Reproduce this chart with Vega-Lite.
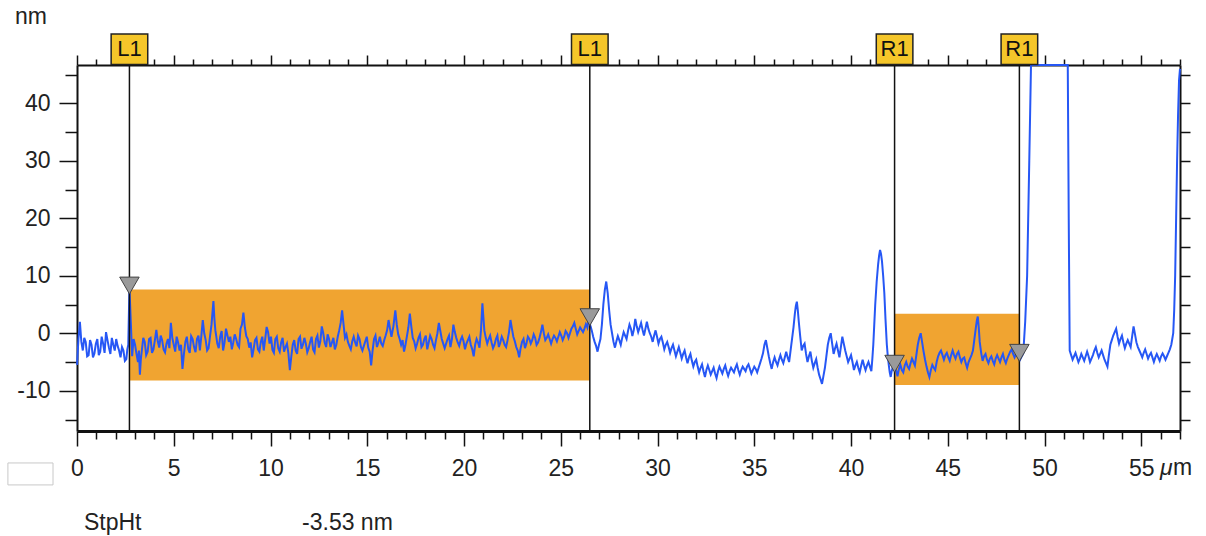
{
"$schema": "https://vega.github.io/schema/vega-lite/v6.json",
"width": 1103, "height": 366,
"autosize": {"type": "none"},
"padding": {"left": 77, "top": 65, "right": 26, "bottom": 105},
"background": "white",
"config": {"view": {"stroke": null}, "axis": {"labelFont": "Liberation Sans", "labelFontSize": 23, "labelColor": "#222", "domainColor": "#111", "tickColor": "#111", "grid": false, "title": null, "labelFlush": false}},
"datasets": {
"profile": [
{"x":0.00,"h":-5.5},{"x":0.075,"h":-1.0},{"x":0.15,"h":2.0},{"x":0.225,"h":-1.5},{"x":0.30,"h":-3.0},{"x":0.375,"h":-0.8},{"x":0.45,"h":-1.5},{"x":0.525,"h":-4.0},{"x":0.60,"h":-3.8},{"x":0.675,"h":-1.2},{"x":0.75,"h":-2.0},{"x":0.825,"h":-4.2},{"x":0.90,"h":-3.5},{"x":0.975,"h":-1.8},{"x":1.05,"h":-1.0},{"x":1.125,"h":-3.8},{"x":1.20,"h":-3.2},{"x":1.275,"h":-0.6},{"x":1.35,"h":-1.8},{"x":1.425,"h":-3.4},{"x":1.50,"h":0.2},{"x":1.575,"h":-1.2},{"x":1.65,"h":-2.5},{"x":1.725,"h":-3.6},{"x":1.80,"h":-0.8},{"x":1.875,"h":-2.0},{"x":1.95,"h":-3.0},{"x":2.025,"h":-1.0},{"x":2.10,"h":-2.2},{"x":2.175,"h":-3.0},{"x":2.25,"h":-4.2},{"x":2.325,"h":-2.4},{"x":2.40,"h":-3.0},{"x":2.475,"h":-4.8},{"x":2.55,"h":-4.5},{"x":2.60,"h":-2.8},{"x":2.65,"h":-2.0},{"x":2.71,"h":8.0},{"x":2.78,"h":2.0},{"x":2.85,"h":-4.0},
{"x":2.925,"h":-1.0},{"x":3.00,"h":-2.0},{"x":3.075,"h":-3.6},{"x":3.15,"h":-5.0},{"x":3.20,"h":-3.0},{"x":3.25,"h":-7.2},{"x":3.30,"h":-4.5},{"x":3.35,"h":-3.0},{"x":3.425,"h":-0.8},{"x":3.50,"h":-1.5},{"x":3.575,"h":-3.8},{"x":3.65,"h":-3.2},{"x":3.725,"h":-1.0},{"x":3.80,"h":-0.8},{"x":3.875,"h":-3.4},{"x":3.95,"h":-2.8},{"x":4.025,"h":-1.2},{"x":4.10,"h":0.6},{"x":4.175,"h":-1.4},{"x":4.25,"h":-2.5},{"x":4.325,"h":-0.4},{"x":4.40,"h":-1.2},{"x":4.475,"h":-2.8},{"x":4.55,"h":-3.3},{"x":4.625,"h":-1.8},{"x":4.70,"h":-1.0},{"x":4.775,"h":-2.6},{"x":4.85,"h":1.8},{"x":4.925,"h":-0.8},{"x":5.00,"h":-2.0},{"x":5.075,"h":-3.2},{"x":5.15,"h":-0.6},{"x":5.225,"h":-1.6},{"x":5.30,"h":-3.0},{"x":5.375,"h":-2.0},{"x":5.45,"h":-6.2},{"x":5.525,"h":-3.6},{"x":5.60,"h":-1.5},{"x":5.675,"h":-0.6},{"x":5.75,"h":-2.8},{"x":5.825,"h":-3.4},{"x":5.90,"h":-0.5},{"x":5.975,"h":-1.0},{"x":6.05,"h":-2.4},{"x":6.125,"h":-3.3},{"x":6.20,"h":-1.0},{"x":6.275,"h":-0.4},{"x":6.35,"h":-3.0},{"x":6.425,"h":-0.5},{"x":6.50,"h":2.3},{"x":6.575,"h":0.0},{"x":6.65,"h":-1.2},{"x":6.725,"h":-3.0},{"x":6.80,"h":-2.6},{"x":6.875,"h":-0.5},{"x":6.95,"h":1.5},{"x":7.05,"h":5.6},{"x":7.10,"h":2.5},{"x":7.15,"h":0.5},{"x":7.20,"h":-0.6},{"x":7.25,"h":-1.8},{"x":7.325,"h":-2.6},{"x":7.40,"h":-0.6},{"x":7.475,"h":0.4},{"x":7.55,"h":-3.0},{"x":7.625,"h":-1.6},{"x":7.70,"h":0.8},{"x":7.775,"h":-0.4},{"x":7.85,"h":-1.5},{"x":7.925,"h":-0.6},{"x":8.00,"h":-2.8},{"x":8.075,"h":-1.6},{"x":8.15,"h":-0.2},{"x":8.225,"h":-1.0},{"x":8.30,"h":-2.0},{"x":8.375,"h":-2.4},{"x":8.45,"h":0.8},{"x":8.525,"h":1.5},{"x":8.60,"h":3.6},{"x":8.675,"h":1.0},{"x":8.75,"h":-0.5},{"x":8.825,"h":-1.0},{"x":8.90,"h":-2.5},{"x":8.975,"h":-1.6},{"x":9.05,"h":-4.2},{"x":9.125,"h":-2.8},{"x":9.20,"h":-1.2},{"x":9.275,"h":-0.8},{"x":9.35,"h":-2.8},{"x":9.425,"h":-3.2},{"x":9.50,"h":-1.5},{"x":9.575,"h":-0.6},{"x":9.65,"h":-3.0},{"x":9.725,"h":-1.0},{"x":9.80,"h":1.1},{"x":9.875,"h":0.2},{"x":9.95,"h":-1.8},{"x":10.025,"h":-0.6},{"x":10.10,"h":-2.9},{"x":10.175,"h":-3.4},{"x":10.25,"h":-1.0},{"x":10.325,"h":-0.6},{"x":10.40,"h":-2.6},{"x":10.475,"h":-3.2},{"x":10.55,"h":-1.6},{"x":10.625,"h":-0.8},{"x":10.70,"h":-3.2},{"x":10.775,"h":-2.4},{"x":10.85,"h":-1.8},{"x":10.925,"h":-3.5},{"x":11.00,"h":-6.4},{"x":11.075,"h":-4.0},{"x":11.15,"h":-2.0},{"x":11.225,"h":-1.2},{"x":11.30,"h":-3.0},{"x":11.375,"h":-3.6},{"x":11.45,"h":-1.0},{"x":11.525,"h":-0.6},{"x":11.60,"h":-2.7},{"x":11.675,"h":-2.0},{"x":11.75,"h":-0.8},{"x":11.825,"h":-1.8},{"x":11.90,"h":-3.3},{"x":11.975,"h":-2.6},{"x":12.05,"h":-1.5},{"x":12.125,"h":-0.6},{"x":12.20,"h":-2.8},{"x":12.275,"h":-3.3},{"x":12.35,"h":-1.0},{"x":12.425,"h":-0.4},{"x":12.50,"h":-2.5},{"x":12.575,"h":-1.4},{"x":12.65,"h":1.2},{"x":12.725,"h":0.0},{"x":12.80,"h":-1.6},{"x":12.875,"h":-2.4},{"x":12.95,"h":-0.2},{"x":13.025,"h":-1.0},{"x":13.10,"h":-2.4},{"x":13.175,"h":-1.6},{"x":13.25,"h":-0.8},{"x":13.325,"h":-2.8},{"x":13.40,"h":-2.0},{"x":13.475,"h":-0.6},{"x":13.55,"h":0.5},{"x":13.625,"h":1.8},{"x":13.70,"h":4.0},{"x":13.775,"h":1.5},{"x":13.85,"h":-0.8},{"x":13.925,"h":-0.2},{"x":14.00,"h":-1.5},{"x":14.075,"h":-2.2},{"x":14.15,"h":-2.8},{"x":14.225,"h":-1.4},{"x":14.30,"h":-0.6},{"x":14.375,"h":-1.6},{"x":14.45,"h":-2.3},{"x":14.525,"h":-0.4},{"x":14.60,"h":-1.0},{"x":14.675,"h":-2.4},{"x":14.75,"h":-3.0},{"x":14.825,"h":-2.2},{"x":14.90,"h":-1.4},{"x":14.975,"h":-0.6},{"x":15.05,"h":-2.5},{"x":15.125,"h":-3.2},{"x":15.20,"h":-5.6},{"x":15.275,"h":-3.0},{"x":15.35,"h":-1.0},{"x":15.425,"h":-0.4},{"x":15.50,"h":-2.4},{"x":15.575,"h":-1.6},{"x":15.65,"h":-0.6},{"x":15.725,"h":-1.8},{"x":15.80,"h":-2.2},{"x":15.875,"h":-1.2},{"x":15.95,"h":-0.4},{"x":16.025,"h":0.5},{"x":16.10,"h":2.3},{"x":16.175,"h":0.8},{"x":16.25,"h":-0.6},{"x":16.35,"h":1.2},{"x":16.45,"h":4.0},{"x":16.525,"h":1.5},{"x":16.60,"h":-0.2},{"x":16.675,"h":-1.0},{"x":16.75,"h":-2.0},{"x":16.825,"h":-1.2},{"x":16.90,"h":-3.2},{"x":16.975,"h":-2.0},{"x":17.05,"h":-0.5},{"x":17.125,"h":1.0},{"x":17.20,"h":3.4},{"x":17.275,"h":1.2},{"x":17.35,"h":-0.8},{"x":17.425,"h":-1.4},{"x":17.50,"h":-2.6},{"x":17.575,"h":-1.8},{"x":17.65,"h":-0.8},{"x":17.725,"h":-0.2},{"x":17.80,"h":-2.4},{"x":17.875,"h":-2.0},{"x":17.95,"h":-1.0},{"x":18.025,"h":-0.4},{"x":18.10,"h":-2.8},{"x":18.175,"h":-1.6},{"x":18.25,"h":-0.4},{"x":18.325,"h":-1.0},{"x":18.40,"h":-2.0},{"x":18.475,"h":-2.6},{"x":18.55,"h":-1.2},{"x":18.625,"h":0.0},{"x":18.70,"h":1.8},{"x":18.775,"h":0.4},{"x":18.85,"h":-1.0},{"x":18.925,"h":-1.8},{"x":19.00,"h":-2.6},{"x":19.075,"h":-1.8},{"x":19.15,"h":-1.0},{"x":19.225,"h":-0.4},{"x":19.30,"h":-2.4},{"x":19.375,"h":-1.0},{"x":19.45,"h":1.5},{"x":19.525,"h":0.2},{"x":19.60,"h":-0.8},{"x":19.675,"h":-1.6},{"x":19.75,"h":-2.2},{"x":19.825,"h":-1.2},{"x":19.90,"h":-0.6},{"x":19.975,"h":-1.4},{"x":20.05,"h":-2.8},{"x":20.125,"h":-1.8},{"x":20.20,"h":-1.2},{"x":20.275,"h":-0.6},{"x":20.35,"h":-2.0},{"x":20.425,"h":-2.8},{"x":20.50,"h":-4.0},{"x":20.575,"h":-2.0},{"x":20.65,"h":-1.0},{"x":20.725,"h":-1.6},{"x":20.80,"h":-2.5},{"x":20.875,"h":0.5},{"x":20.95,"h":5.2},{"x":21.00,"h":2.8},{"x":21.05,"h":0.5},{"x":21.125,"h":-0.8},{"x":21.20,"h":-1.8},{"x":21.275,"h":-1.0},{"x":21.35,"h":-0.4},{"x":21.425,"h":-1.6},{"x":21.50,"h":-2.6},{"x":21.575,"h":-2.0},{"x":21.65,"h":-1.0},{"x":21.725,"h":-0.4},{"x":21.80,"h":-2.4},{"x":21.875,"h":-1.6},{"x":21.95,"h":-0.6},{"x":22.025,"h":-1.2},{"x":22.10,"h":-2.0},{"x":22.175,"h":-2.4},{"x":22.25,"h":-1.2},{"x":22.325,"h":0.2},{"x":22.40,"h":2.3},{"x":22.475,"h":0.8},{"x":22.55,"h":-0.6},{"x":22.625,"h":-1.4},{"x":22.70,"h":-2.4},{"x":22.775,"h":-3.0},{"x":22.85,"h":-4.2},{"x":22.925,"h":-2.6},{"x":23.00,"h":-1.5},{"x":23.075,"h":-1.0},{"x":23.15,"h":-2.6},{"x":23.225,"h":-1.8},{"x":23.30,"h":-0.6},{"x":23.375,"h":-1.0},{"x":23.45,"h":-1.8},{"x":23.525,"h":-1.2},{"x":23.60,"h":-0.2},{"x":23.675,"h":-0.8},{"x":23.75,"h":-2.0},{"x":23.825,"h":-1.6},{"x":23.90,"h":-0.8},{"x":23.975,"h":0.2},{"x":24.05,"h":1.5},{"x":24.125,"h":0.0},{"x":24.20,"h":-1.2},{"x":24.275,"h":-0.8},{"x":24.35,"h":-0.2},{"x":24.425,"h":-1.0},{"x":24.50,"h":-1.8},{"x":24.575,"h":-1.0},{"x":24.65,"h":-0.4},{"x":24.725,"h":-0.8},{"x":24.80,"h":-1.4},{"x":24.875,"h":-0.6},{"x":24.95,"h":0.2},{"x":25.025,"h":-0.4},{"x":25.10,"h":-1.2},{"x":25.175,"h":-0.6},{"x":25.25,"h":0.4},{"x":25.325,"h":0.0},{"x":25.40,"h":-0.8},{"x":25.475,"h":0.0},{"x":25.55,"h":0.8},{"x":25.625,"h":1.2},{"x":25.70,"h":1.8},{"x":25.775,"h":0.8},{"x":25.85,"h":-0.2},{"x":25.925,"h":0.4},{"x":26.00,"h":1.0},{"x":26.075,"h":0.6},{"x":26.15,"h":0.2},{"x":26.225,"h":0.8},{"x":26.30,"h":1.6},{"x":26.375,"h":1.0},{"x":26.45,"h":2.6},{"x":26.525,"h":1.4},{"x":26.60,"h":0.5},{"x":26.675,"h":-0.6},{"x":26.75,"h":-1.5},{"x":26.825,"h":-2.2},{"x":26.90,"h":-3.2},{"x":26.975,"h":-2.0},{"x":27.05,"h":-1.0},
{"x":27.125,"h":1.5},{"x":27.20,"h":5.0},{"x":27.275,"h":7.5},{"x":27.35,"h":9.0},{"x":27.425,"h":7.0},{"x":27.50,"h":4.0},{"x":27.575,"h":1.5},{"x":27.65,"h":0.0},{"x":27.725,"h":-1.5},{"x":27.80,"h":-2.5},{"x":27.875,"h":-1.4},{"x":27.95,"h":-0.5},{"x":28.025,"h":-1.2},{"x":28.10,"h":-2.0},{"x":28.175,"h":-0.8},{"x":28.25,"h":0.2},{"x":28.325,"h":-0.4},{"x":28.40,"h":-1.0},{"x":28.475,"h":0.4},{"x":28.55,"h":1.5},{"x":28.625,"h":0.8},{"x":28.70,"h":-0.5},{"x":28.775,"h":0.6},{"x":28.85,"h":2.5},{"x":28.925,"h":1.2},{"x":29.00,"h":0.2},{"x":29.075,"h":1.0},{"x":29.15,"h":1.8},{"x":29.225,"h":0.6},{"x":29.30,"h":-0.4},{"x":29.375,"h":0.8},{"x":29.45,"h":2.0},{"x":29.525,"h":0.8},{"x":29.60,"h":0.0},{"x":29.675,"h":-0.6},{"x":29.75,"h":-1.5},{"x":29.825,"h":-0.4},{"x":29.90,"h":0.5},{"x":29.975,"h":-0.6},{"x":30.05,"h":-1.8},{"x":30.125,"h":-1.0},{"x":30.20,"h":-0.6},{"x":30.275,"h":-1.6},{"x":30.35,"h":-2.8},{"x":30.425,"h":-2.0},{"x":30.50,"h":-1.5},{"x":30.575,"h":-2.4},{"x":30.65,"h":-3.4},{"x":30.725,"h":-2.6},{"x":30.80,"h":-2.0},{"x":30.875,"h":-3.0},{"x":30.95,"h":-4.0},{"x":31.025,"h":-3.2},{"x":31.10,"h":-2.4},{"x":31.175,"h":-3.4},{"x":31.25,"h":-4.4},{"x":31.325,"h":-3.6},{"x":31.40,"h":-3.0},{"x":31.475,"h":-4.2},{"x":31.55,"h":-5.2},{"x":31.625,"h":-4.2},{"x":31.70,"h":-3.6},{"x":31.775,"h":-4.8},{"x":31.85,"h":-5.8},{"x":31.925,"h":-5.0},{"x":32.00,"h":-4.6},{"x":32.075,"h":-5.8},{"x":32.15,"h":-6.8},{"x":32.225,"h":-6.0},{"x":32.30,"h":-5.4},{"x":32.375,"h":-6.6},{"x":32.45,"h":-7.6},{"x":32.525,"h":-6.4},{"x":32.60,"h":-5.6},{"x":32.675,"h":-6.4},{"x":32.75,"h":-7.2},{"x":32.825,"h":-6.6},{"x":32.90,"h":-6.0},{"x":32.975,"h":-7.0},{"x":33.05,"h":-7.8},{"x":33.125,"h":-6.6},{"x":33.20,"h":-5.8},{"x":33.275,"h":-6.4},{"x":33.35,"h":-7.0},{"x":33.425,"h":-6.2},{"x":33.50,"h":-5.6},{"x":33.575,"h":-6.6},{"x":33.65,"h":-7.4},{"x":33.725,"h":-6.6},{"x":33.80,"h":-6.0},{"x":33.875,"h":-6.4},{"x":33.95,"h":-6.8},{"x":34.025,"h":-6.0},{"x":34.10,"h":-5.4},{"x":34.175,"h":-6.4},{"x":34.25,"h":-7.2},{"x":34.325,"h":-6.4},{"x":34.40,"h":-5.8},{"x":34.475,"h":-6.2},{"x":34.55,"h":-6.6},{"x":34.625,"h":-5.8},{"x":34.70,"h":-5.4},{"x":34.775,"h":-6.2},{"x":34.85,"h":-7.0},{"x":34.925,"h":-6.4},{"x":35.00,"h":-5.8},{"x":35.075,"h":-6.2},{"x":35.15,"h":-6.8},{"x":35.225,"h":-6.0},{"x":35.30,"h":-5.2},{"x":35.375,"h":-4.4},{"x":35.45,"h":-3.5},{"x":35.525,"h":-2.0},{"x":35.60,"h":-1.2},{"x":35.675,"h":-2.6},{"x":35.75,"h":-4.0},{"x":35.825,"h":-5.2},{"x":35.90,"h":-6.2},{"x":35.975,"h":-5.0},{"x":36.05,"h":-4.2},{"x":36.125,"h":-5.0},{"x":36.20,"h":-5.6},{"x":36.275,"h":-4.6},{"x":36.35,"h":-3.8},{"x":36.425,"h":-4.6},{"x":36.50,"h":-5.2},{"x":36.575,"h":-4.2},{"x":36.65,"h":-3.2},{"x":36.725,"h":-4.2},{"x":36.80,"h":-5.0},{"x":36.875,"h":-3.0},{"x":36.95,"h":-1.0},{"x":37.025,"h":1.0},{"x":37.10,"h":3.5},{"x":37.15,"h":4.8},{"x":37.20,"h":5.5},{"x":37.25,"h":4.0},{"x":37.30,"h":2.0},{"x":37.375,"h":-0.6},{"x":37.45,"h":-3.0},{"x":37.525,"h":-2.2},{"x":37.60,"h":-1.8},{"x":37.675,"h":-3.6},{"x":37.75,"h":-5.0},{"x":37.825,"h":-4.0},{"x":37.90,"h":-3.2},{"x":37.975,"h":-4.8},{"x":38.05,"h":-6.0},{"x":38.125,"h":-5.2},{"x":38.20,"h":-4.5},{"x":38.275,"h":-6.0},{"x":38.35,"h":-7.2},{"x":38.425,"h":-8.0},{"x":38.50,"h":-8.8},{"x":38.575,"h":-7.4},{"x":38.65,"h":-6.0},{"x":38.725,"h":-4.0},{"x":38.80,"h":-2.0},{"x":38.875,"h":-0.8},{"x":38.95,"h":0.0},{"x":39.025,"h":-1.8},{"x":39.10,"h":-3.6},{"x":39.175,"h":-2.6},{"x":39.25,"h":-1.8},{"x":39.325,"h":-3.0},{"x":39.40,"h":-4.2},{"x":39.475,"h":-2.4},{"x":39.55,"h":-0.6},{"x":39.625,"h":-1.8},{"x":39.70,"h":-3.0},{"x":39.775,"h":-4.0},{"x":39.85,"h":-5.0},{"x":39.925,"h":-4.4},{"x":40.00,"h":-3.8},{"x":40.075,"h":-5.0},{"x":40.15,"h":-6.4},{"x":40.225,"h":-5.6},{"x":40.30,"h":-5.0},{"x":40.375,"h":-6.0},{"x":40.45,"h":-6.8},{"x":40.525,"h":-5.6},{"x":40.60,"h":-4.6},{"x":40.675,"h":-5.6},{"x":40.75,"h":-6.4},{"x":40.825,"h":-5.6},{"x":40.90,"h":-5.0},{"x":40.975,"h":-5.8},{"x":41.05,"h":-6.6},{"x":41.10,"h":-4.5},{"x":41.15,"h":-2.0},{"x":41.20,"h":1.5},{"x":41.25,"h":5.0},{"x":41.325,"h":9.0},{"x":41.40,"h":12.0},{"x":41.45,"h":13.5},{"x":41.50,"h":14.5},{"x":41.55,"h":13.8},{"x":41.60,"h":12.5},{"x":41.66,"h":10.0},{"x":41.72,"h":7.0},{"x":41.78,"h":2.5},{"x":41.85,"h":-2.0},{"x":41.90,"h":-4.0},{"x":41.95,"h":-5.5},{"x":42.00,"h":-6.8},{"x":42.05,"h":-7.6},{"x":42.10,"h":-6.6},{"x":42.15,"h":-6.0},{"x":42.20,"h":-5.0},{"x":42.25,"h":-5.2},
{"x":42.325,"h":-6.4},{"x":42.40,"h":-7.5},{"x":42.475,"h":-6.2},{"x":42.55,"h":-5.5},{"x":42.625,"h":-6.4},{"x":42.70,"h":-6.8},{"x":42.775,"h":-5.6},{"x":42.85,"h":-5.0},{"x":42.925,"h":-5.8},{"x":43.00,"h":-6.2},{"x":43.075,"h":-5.2},{"x":43.15,"h":-4.4},{"x":43.225,"h":-5.0},{"x":43.30,"h":-5.6},{"x":43.375,"h":-3.8},{"x":43.45,"h":-2.0},{"x":43.525,"h":-0.8},{"x":43.60,"h":0.0},{"x":43.675,"h":-1.6},{"x":43.75,"h":-3.2},{"x":43.825,"h":-4.6},{"x":43.90,"h":-5.8},{"x":43.975,"h":-6.8},{"x":44.05,"h":-7.6},{"x":44.125,"h":-6.4},{"x":44.20,"h":-5.5},{"x":44.275,"h":-6.0},{"x":44.35,"h":-6.4},{"x":44.425,"h":-5.0},{"x":44.50,"h":-4.0},{"x":44.575,"h":-3.4},{"x":44.65,"h":-3.0},{"x":44.725,"h":-3.8},{"x":44.80,"h":-4.6},{"x":44.875,"h":-3.8},{"x":44.95,"h":-3.4},{"x":45.025,"h":-4.2},{"x":45.10,"h":-4.8},{"x":45.175,"h":-3.8},{"x":45.25,"h":-3.0},{"x":45.325,"h":-3.8},{"x":45.40,"h":-4.4},{"x":45.475,"h":-3.6},{"x":45.55,"h":-3.2},{"x":45.625,"h":-4.2},{"x":45.70,"h":-5.0},{"x":45.775,"h":-4.4},{"x":45.85,"h":-4.2},{"x":45.925,"h":-5.2},{"x":46.00,"h":-6.0},{"x":46.075,"h":-5.0},{"x":46.15,"h":-4.4},{"x":46.225,"h":-3.8},{"x":46.30,"h":-3.0},{"x":46.375,"h":-1.0},{"x":46.45,"h":1.0},{"x":46.50,"h":2.2},{"x":46.55,"h":2.9},{"x":46.60,"h":1.0},{"x":46.65,"h":-1.5},{"x":46.725,"h":-3.4},{"x":46.80,"h":-4.8},{"x":46.875,"h":-4.0},{"x":46.95,"h":-3.6},{"x":47.025,"h":-4.6},{"x":47.10,"h":-5.2},{"x":47.175,"h":-4.4},{"x":47.25,"h":-4.0},{"x":47.325,"h":-4.8},{"x":47.40,"h":-5.4},{"x":47.475,"h":-4.4},{"x":47.55,"h":-3.8},{"x":47.625,"h":-4.4},{"x":47.70,"h":-5.0},{"x":47.775,"h":-4.2},{"x":47.85,"h":-3.6},{"x":47.925,"h":-4.6},{"x":48.00,"h":-5.2},{"x":48.075,"h":-4.4},{"x":48.15,"h":-3.8},{"x":48.225,"h":-3.2},{"x":48.30,"h":-2.8},{"x":48.375,"h":-3.6},{"x":48.45,"h":-4.2},{"x":48.525,"h":-3.6},{"x":48.60,"h":-3.2},{"x":48.675,"h":-3.8},{"x":48.75,"h":-4.5},{"x":48.825,"h":-4.0},{"x":48.90,"h":-3.5},{"x":49.00,"h":2.0},{"x":49.10,"h":10.0},{"x":49.20,"h":28.0},{"x":49.30,"h":46.66},{"x":51.20,"h":46.66},{"x":51.25,"h":20.0},{"x":51.30,"h":-3.0},
{"x":51.375,"h":-3.8},{"x":51.45,"h":-4.6},{"x":51.525,"h":-4.0},{"x":51.60,"h":-3.4},{"x":51.675,"h":-4.2},{"x":51.75,"h":-5.0},{"x":51.825,"h":-4.4},{"x":51.90,"h":-3.6},{"x":51.975,"h":-4.2},{"x":52.05,"h":-4.8},{"x":52.125,"h":-4.0},{"x":52.20,"h":-3.2},{"x":52.275,"h":-4.0},{"x":52.35,"h":-5.0},{"x":52.425,"h":-4.4},{"x":52.50,"h":-3.8},{"x":52.575,"h":-3.0},{"x":52.65,"h":-2.4},{"x":52.725,"h":-3.4},{"x":52.80,"h":-4.2},{"x":52.875,"h":-3.6},{"x":52.95,"h":-3.0},{"x":53.025,"h":-3.8},{"x":53.10,"h":-4.6},{"x":53.175,"h":-5.2},{"x":53.25,"h":-5.8},{"x":53.325,"h":-3.8},{"x":53.40,"h":-2.0},{"x":53.475,"h":-1.2},{"x":53.55,"h":-0.4},{"x":53.625,"h":0.2},{"x":53.70,"h":0.8},{"x":53.775,"h":-0.6},{"x":53.85,"h":-1.8},{"x":53.925,"h":-1.0},{"x":54.00,"h":-0.4},{"x":54.075,"h":-1.6},{"x":54.15,"h":-2.6},{"x":54.225,"h":-1.8},{"x":54.30,"h":-1.2},{"x":54.375,"h":-1.8},{"x":54.45,"h":-2.4},{"x":54.525,"h":-0.6},{"x":54.60,"h":1.2},{"x":54.675,"h":-0.2},{"x":54.75,"h":-1.6},{"x":54.825,"h":-2.4},{"x":54.90,"h":-3.0},{"x":54.975,"h":-3.6},{"x":55.05,"h":-4.2},{"x":55.125,"h":-3.4},{"x":55.20,"h":-2.8},{"x":55.275,"h":-3.6},{"x":55.35,"h":-4.4},{"x":55.425,"h":-3.8},{"x":55.50,"h":-3.4},{"x":55.575,"h":-4.2},{"x":55.65,"h":-5.0},{"x":55.725,"h":-4.2},{"x":55.80,"h":-3.6},{"x":55.875,"h":-4.2},{"x":55.95,"h":-4.8},{"x":56.025,"h":-4.0},{"x":56.10,"h":-3.5},{"x":56.175,"h":-4.0},{"x":56.25,"h":-4.6},{"x":56.325,"h":-4.0},{"x":56.40,"h":-3.4},{"x":56.475,"h":-2.8},{"x":56.55,"h":-2.0},{"x":56.60,"h":-1.0},{"x":56.65,"h":0.0},{"x":56.70,"h":4.0},{"x":56.75,"h":10.0},{"x":56.80,"h":20.0},{"x":56.85,"h":30.0},{"x":56.90,"h":38.0},{"x":56.95,"h":44.0},{"x":57.00,"h":46.0}
],
"cursors": [
{"pos":2.71,"lab":"L1","mk":8.3},
{"pos":26.5,"lab":"L1","mk":2.8},
{"pos":42.25,"lab":"R1","mk":-5.3},
{"pos":48.7,"lab":"R1","mk":-3.4}
],
"regions": [
{"x0":2.71,"x1":26.5,"lo":-8.2,"hi":7.6},
{"x0":42.25,"x1":48.7,"lo":-9.0,"hi":3.4}
],
"one": [{}]
},
"layer": [
{
"data": {"name": "regions"},
"mark": {"type": "rect", "color": "#f0a431", "opacity": 1},
"encoding": {
"x": {"field": "x0", "type": "quantitative", "scale": {"domain": [0, 57], "nice": false, "zero": false}, "axis": null},
"x2": {"field": "x1"},
"y": {"field": "lo", "type": "quantitative", "scale": {"domain": [-17, 46.66], "nice": false, "zero": false}, "axis": null},
"y2": {"field": "hi"}
}
},
{
"data": {"name": "profile"},
"mark": {"type": "line", "color": "#2657f5", "strokeWidth": 2.0, "interpolate": "linear"},
"encoding": {
"x": {"field": "x", "type": "quantitative", "axis": {"orient": "bottom", "values": [0,1,2,3,4,5,6,7,8,9,10,11,12,13,14,15,16,17,18,19,20,21,22,23,24,25,26,27,28,29,30,31,32,33,34,35,36,37,38,39,40,41,42,43,44,45,46,47,48,49,50,51,52,53,54,55,56,57], "labelExpr": "datum.value % 5 === 0 ? '' + datum.value : ''", "tickSize": {"condition": {"test": "datum.value % 5 === 0", "value": 15}, "value": 8}, "tickWidth": 1.5, "domainWidth": 3, "labelPadding": 11}},
"y": {"field": "h", "type": "quantitative", "axis": {"orient": "left", "values": [-15,-10,-5,0,5,10,15,20,25,30,35,40,45], "labelExpr": "datum.value % 10 === 0 ? '' + datum.value : ''", "tickSize": {"condition": {"test": "datum.value % 10 === 0", "value": 18}, "value": 12}, "tickWidth": 1.5, "domainWidth": 2, "labelPadding": 9}}
}
},
{
"data": {"name": "cursors"},
"mark": {"type": "rule", "color": "#111", "strokeWidth": 1.5},
"encoding": {
"x": {"field": "pos", "type": "quantitative", "axis": {"orient": "top", "values": [0,1,2,3,4,5,6,7,8,9,10,11,12,13,14,15,16,17,18,19,20,21,22,23,24,25,26,27,28,29,30,31,32,33,34,35,36,37,38,39,40,41,42,43,44,45,46,47,48,49,50,51,52,53,54,55,56,57], "labels": false, "tickSize": {"condition": {"test": "datum.value % 5 === 0", "value": 10}, "value": 6}, "tickWidth": 1.5, "domainWidth": 2}}
}
},
{
"data": {"name": "cursors"},
"mark": {"type": "point", "shape": "triangle-down", "filled": true, "fill": "#9a9a9a", "stroke": "#444", "strokeWidth": 1, "size": 380, "opacity": 1},
"encoding": {
"x": {"field": "pos", "type": "quantitative", "axis": null},
"y": {"field": "mk", "type": "quantitative", "axis": {"orient": "right", "values": [-15,-10,-5,0,5,10,15,20,25,30,35,40,45], "labels": false, "tickSize": 10, "tickWidth": 1.5, "domainWidth": 2}}
}
},
{
"data": {"name": "cursors"},
"mark": {"type": "point", "shape": "M-1.2,-1H1.2V1H-1.2Z", "filled": true, "fill": "#f5c62a", "stroke": "#222", "strokeWidth": 1.5, "size": 930, "opacity": 1, "clip": false},
"encoding": {
"x": {"field": "pos", "type": "quantitative", "axis": null},
"y": {"datum": 49.4, "type": "quantitative", "axis": null}
}
},
{
"data": {"name": "cursors"},
"mark": {"type": "text", "font": "Liberation Sans", "fontSize": 22, "color": "#111", "align": "center", "baseline": "middle"},
"encoding": {
"x": {"field": "pos", "type": "quantitative", "axis": null},
"y": {"datum": 49.4, "type": "quantitative", "axis": null},
"text": {"field": "lab"}
}
},
{
"data": {"name": "one"},
"mark": {"type": "text", "font": "Liberation Sans", "fontSize": 23, "color": "#222", "align": "center", "baseline": "middle"},
"encoding": {"x": {"datum": -2.38, "type": "quantitative", "axis": null}, "y": {"datum": 55.0, "type": "quantitative", "axis": null}, "text": {"value": "nm"}}
},
{
"data": {"name": "one"},
"mark": {"type": "text", "font": "Liberation Sans", "fontSize": 23, "color": "#222", "align": "left", "baseline": "middle", "fontStyle": "italic"},
"encoding": {"x": {"datum": 55.97, "type": "quantitative", "axis": null}, "y": {"datum": -23.4, "type": "quantitative", "axis": null}, "text": {"value": "μ"}}
},
{
"data": {"name": "one"},
"mark": {"type": "text", "font": "Liberation Sans", "fontSize": 23, "color": "#222", "align": "left", "baseline": "middle"},
"encoding": {"x": {"datum": 56.64, "type": "quantitative", "axis": null}, "y": {"datum": -23.4, "type": "quantitative", "axis": null}, "text": {"value": "m"}}
},
{
"data": {"name": "one"},
"mark": {"type": "text", "font": "Liberation Sans", "fontSize": 23, "color": "#222", "align": "left", "baseline": "middle"},
"encoding": {"x": {"datum": 0.36, "type": "quantitative", "axis": null}, "y": {"datum": -33.0, "type": "quantitative", "axis": null}, "text": {"value": "StpHt"}}
},
{
"data": {"name": "one"},
"mark": {"type": "text", "font": "Liberation Sans", "fontSize": 23, "color": "#222", "align": "left", "baseline": "middle"},
"encoding": {"x": {"datum": 11.63, "type": "quantitative", "axis": null}, "y": {"datum": -33.0, "type": "quantitative", "axis": null}, "text": {"value": "-3.53 nm"}}
},
{
"data": {"name": "one"},
"mark": {"type": "rect", "fill": "white", "stroke": "#c8c8c8", "strokeWidth": 1},
"encoding": {"x": {"datum": -3.57, "type": "quantitative", "axis": null}, "x2": {"datum": -1.24}, "y": {"datum": -22.56, "type": "quantitative", "axis": null}, "y2": {"datum": -26.38}}
}
],
"resolve": {"axis": {"x": "independent", "y": "independent"}}
}
